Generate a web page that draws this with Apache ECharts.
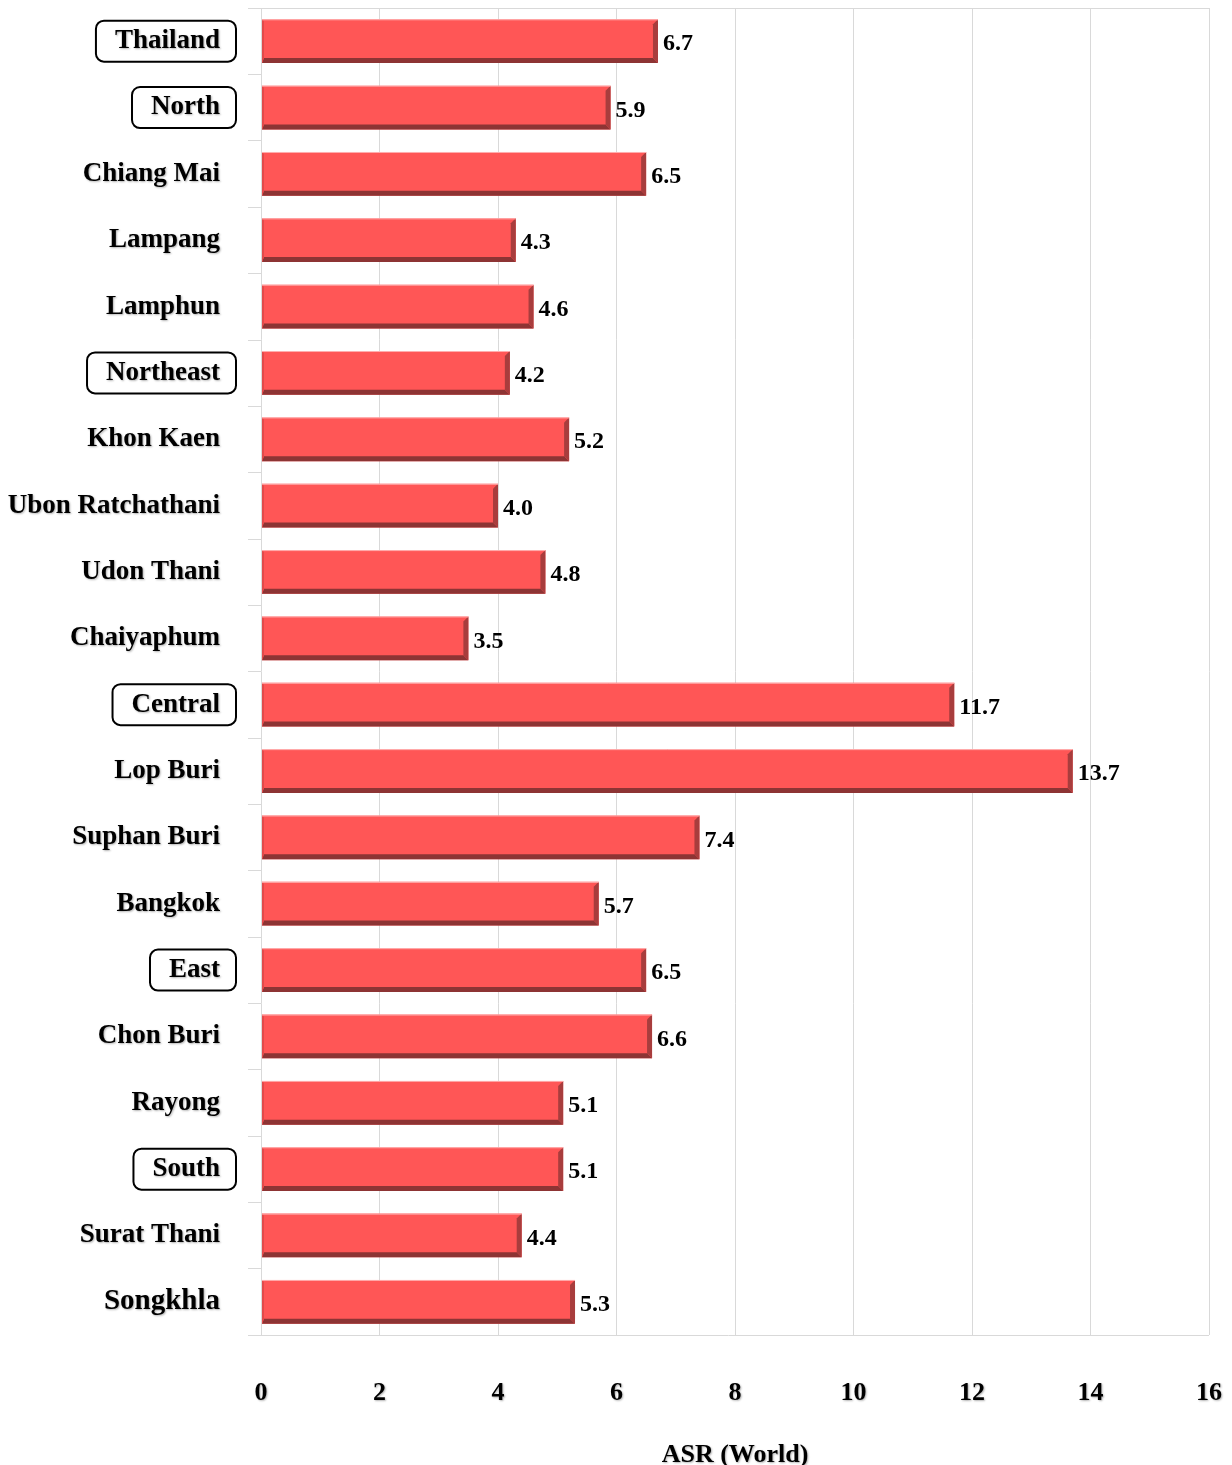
<!DOCTYPE html>
<html>
<head>
<meta charset="utf-8">
<title>ASR (World)</title>
<script src="https://cdn.jsdelivr.net/npm/echarts@6/dist/echarts.min.js"></script>
<style>
  html, body { margin: 0; padding: 0; background: #fff; }
  #main { width: 1232px; height: 1465px; }
</style>
</head>
<body>
<div id="main"></div>
<script>
var categories = ['Thailand', 'North', 'Chiang Mai', 'Lampang', 'Lamphun', 'Northeast', 'Khon Kaen',
  'Ubon Ratchathani', 'Udon Thani', 'Chaiyaphum', 'Central', 'Lop Buri', 'Suphan Buri', 'Bangkok',
  'East', 'Chon Buri', 'Rayong', 'South', 'Surat Thani', 'Songkhla'];
var values = [6.7, 5.9, 6.5, 4.3, 4.6, 4.2, 5.2, 4.0, 4.8, 3.5, 11.7, 13.7, 7.4, 5.7, 6.5, 6.6, 5.1, 5.1, 4.4, 5.3];
var regions = ['Thailand', 'North', 'Northeast', 'Central', 'East', 'South'];
var xTicks = [0, 2, 4, 6, 8, 10, 12, 14, 16];

var font = '"Liberation Serif", "DejaVu Serif", serif';
var shadow = { textShadowColor: 'rgba(0,0,0,0.3)', textShadowBlur: 2, textShadowOffsetX: 1, textShadowOffsetY: 1 };

var chartData = [];
for (var i = 0; i < values.length; i++) {
  chartData.push([values[i], i]);
}

// beveled bar, drawn from the axis coords
function renderBar(params, api) {
  var v = api.value(0);
  var ci = api.value(1);
  var p0 = api.coord([0, ci]);
  var p1 = api.coord([v, ci]);
  var bh = api.size([0, 1])[1] * 0.66;
  var x0 = p0[0] + 1, x1 = p1[0];
  var yt = p0[1] - bh / 2, yb = p0[1] + bh / 2;
  var b = 5;
  return {
    type: 'group',
    children: [
      { type: 'rect', shape: { x: x0, y: yt, width: x1 - x0, height: bh }, style: { fill: '#ff5656' } },
      { type: 'polygon', shape: { points: [[x0, yb], [x1, yb], [x1 - b, yb - b], [x0 + 2, yb - b]] }, style: { fill: '#8d3434' } },
      { type: 'polygon', shape: { points: [[x1, yt], [x1, yb], [x1 - b, yb - b], [x1 - b, yt + b]] }, style: { fill: '#a83d3d' } },
      { type: 'polygon', shape: { points: [[x0, yt], [x0 + 2, yt + 2], [x0 + 2, yb - b], [x0, yb]] }, style: { fill: '#e24a4a' } },
      { type: 'line', shape: { x1: x0, y1: yt + 0.5, x2: x1, y2: yt + 0.5 }, style: { stroke: '#ffb0b0', lineWidth: 1 } },
      {
        type: 'text',
        x: x1 + 5,
        y: p0[1] + 3,
        style: {
          text: v.toFixed(1),
          fill: '#000',
          font: 'bold 24px ' + font,
          textAlign: 'left',
          textVerticalAlign: 'middle',
          shadowColor: 'rgba(0,0,0,0.3)',
          shadowBlur: 2,
          shadowOffsetX: 1,
          shadowOffsetY: 1
        }
      }
    ]
  };
}

var myChart = echarts.init(document.getElementById('main'));

var labelBase = { fontFamily: font, fontWeight: 'bold', fontSize: 27, color: '#000', padding: [7, 16, 7, 19] };

var option = {
  backgroundColor: '#fff',
  animation: false,
  grid: { left: 261, right: 23, top: 8, bottom: 130, outerBoundsMode: 'none', containLabel: false },
  xAxis: {
    type: 'value',
    min: xTicks[0],
    max: xTicks[xTicks.length - 1],
    interval: 2,
    name: 'ASR (World)',
    nameLocation: 'middle',
    nameGap: 107,
    nameTextStyle: Object.assign({ fontFamily: font, fontWeight: 'bold', fontSize: 26, color: '#000' }, shadow),
    axisLine: { show: false },
    axisTick: { show: false },
    axisLabel: Object.assign({ margin: 45, fontFamily: font, fontWeight: 'bold', fontSize: 26, color: '#000' }, shadow),
    splitLine: { show: true, lineStyle: { color: '#d9d9d9', width: 1 } }
  },
  yAxis: {
    type: 'category',
    data: categories,
    inverse: true,
    axisLine: { show: false },
    axisTick: { show: true, length: 13, lineStyle: { color: '#d9d9d9' } },
    splitLine: { show: false },
    axisLabel: {
      margin: 25,
      formatter: function (val) {
        if (regions.indexOf(val) >= 0) return '{box|' + val + '}';
        if (val === 'Songkhla') return '{big|' + val + '}';
        return '{plain|' + val + '}';
      },
      rich: {
        box: Object.assign({ borderColor: '#000', borderWidth: 2, borderRadius: 8 }, labelBase, shadow),
        plain: Object.assign({}, labelBase, shadow),
        big: Object.assign({}, labelBase, shadow, { fontSize: 29 })
      }
    }
  },
  series: [{
    type: 'custom',
    renderItem: renderBar,
    encode: { x: 0, y: 1 },
    data: chartData
  }]
};

myChart.setOption(option);

// frame lines: top edge and bottom axis (bottom one reaches the tick stubs)
myChart.setOption({
  graphic: [
    { type: 'line', shape: { x1: 248, y1: 1335.5, x2: 1209, y2: 1335.5 }, style: { stroke: '#d9d9d9', lineWidth: 1 } },
    { type: 'line', shape: { x1: 261, y1: 8.5, x2: 1209, y2: 8.5 }, style: { stroke: '#d9d9d9', lineWidth: 1 } }
  ]
});
</script>
</body>
</html>
